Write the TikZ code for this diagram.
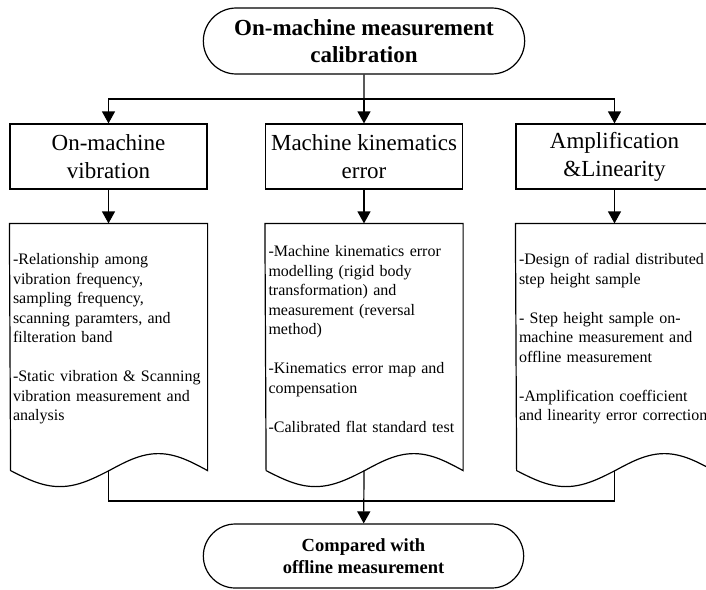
\documentclass[tikz,border=0pt]{standalone}
\usepackage{fontspec}
\setmainfont{Liberation Serif}
\usetikzlibrary{arrows.meta,shapes.misc}
% outline of a document shape round a node, wavy bottom
\newcommand\docoutline[1]{%
  \draw (#1.north west) -- (#1.north east) -- ([yshift=-16pt]#1.south east)
    sin ++(-49.25,-17) cos ++(-49.25,17) sin ++(-49.25,16) cos ++(-49.25,-16) -- cycle;}
\begin{document}
\begin{tikzpicture}[x=1pt,y=-1pt,line width=1.2pt,
    >={Triangle[length=12pt,width=13pt]},
    terminal/.style={draw,rounded rectangle,align=center,font=\bfseries},
    titlebox/.style={draw,rectangle,minimum width=197pt,minimum height=65pt,
      align=center,font=\fontsize{23}{28}\selectfont},
    doctext/.style={text width=191pt,inner xsep=3pt,minimum height=230pt,
      align=left,font=\fontsize{16}{19.5}\selectfont}]
    \path[use as bounding box,clip] (0,0) rectangle (706,589);
    \node[terminal,minimum width=328pt,minimum height=66pt,
      font=\bfseries\fontsize{23}{27}\selectfont] (calib) at (364,41)
      {On-machine measurement\\calibration};
    \node[titlebox] (vib) at (108.5,156.5) {On-machine\\vibration};
    \node[titlebox] (kin) at (364,156.5)   {Machine kinematics\\error};
    \node[titlebox] (amp) at (614.5,156.5) {Amplification\\\&Linearity};

    \node[doctext] (vibdoc) at (108.5,339) {-Relationship among\\vibration frequency,\\sampling frequency,\\scanning paramters, and\\filteration band\\[19.5pt]-Static vibration \& Scanning\\vibration measurement and\\analysis};
    \node[doctext] (kindoc) at (364,339) {-Machine kinematics error\\modelling (rigid body\\transformation) and\\measurement (reversal\\method)\\[19.5pt]-Kinematics error map and\\compensation\\[19.5pt]-Calibrated flat standard test};
    \node[doctext] (ampdoc) at (614.5,339) {-Design of radial distributed\\step height sample\\[19.5pt]- Step height sample on-\\machine measurement and\\offline measurement\\[19.5pt]-Amplification coefficient\\and linearity error correction};
    \docoutline{vibdoc}
    \docoutline{kindoc}
    \docoutline{ampdoc}

    \node[terminal,minimum width=327pt,minimum height=64pt,
      font=\bfseries\fontsize{18.5}{22}\selectfont] (cmp) at (363.5,556)
      {Compared with\\offline measurement};

    \coordinate (split) at (364,99);
    \coordinate (merge) at (364,501);
    \coordinate (vibout) at ([yshift=-16pt]vibdoc.south);
    \coordinate (kinout) at ([yshift=-16pt]kindoc.south);
    \coordinate (ampout) at ([yshift=-16pt]ampdoc.south);

    \draw (calib) -- (split);
    \draw[->] (split) -- (kin);
    \draw[->] (split) -| (vib);
    \draw[->] (split) -| (amp);
    \draw[->] (vib) -- (vibdoc);
    \draw[->] (kin) -- (kindoc);
    \draw[->] (amp) -- (ampdoc);
    \draw (vibout) |- (merge) -| (ampout);
    \draw[->] (kinout) -- (cmp);
\end{tikzpicture}
\end{document}
